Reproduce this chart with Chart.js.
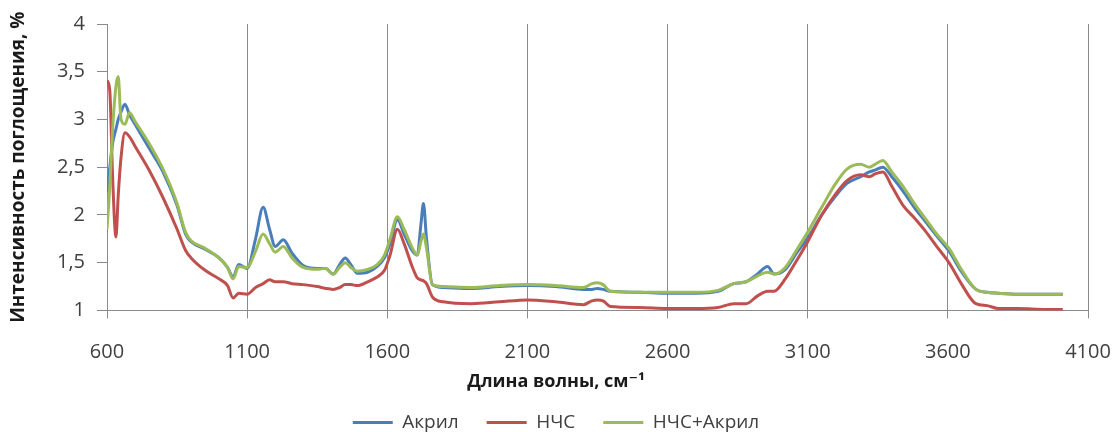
<!DOCTYPE html>
<html>
<head>
<meta charset="utf-8">
<script src="https://cdn.jsdelivr.net/npm/chart.js@4.4.1/dist/chart.umd.min.js"></script>
<style>
  html, body { margin: 0; padding: 0; background: #ffffff; overflow: hidden; }
  #wrap { position: relative; width: 1117px; height: 442px; }
</style>
</head>
<body>
<div id="wrap"><canvas id="c"></canvas></div>
<script>
// Wavenumbers, cm^-1
const wavenumbers = [600, 610, 620, 632, 640, 650, 664, 680, 700, 750, 800, 850, 880, 900, 950, 1000, 1030, 1050, 1070, 1100,
  1130, 1157, 1180, 1200, 1229, 1260, 1300, 1350, 1380, 1407, 1430, 1450, 1470, 1493, 1530, 1564, 1590, 1610, 1636, 1660,
  1690, 1707, 1720, 1729, 1740, 1761, 1800, 1900, 2000, 2100, 2200, 2300, 2330, 2350, 2370, 2396, 2500, 2600, 2700, 2780,
  2836, 2880, 2920, 2957, 2980, 3020, 3060, 3100, 3150, 3200, 3240, 3289, 3320, 3340, 3368, 3400, 3440, 3480, 3520, 3560,
  3604, 3650, 3700, 3740, 3780, 3850, 3950, 4010];

const akril = [2.24, 2.5, 2.75, 2.9, 3.0, 3.08, 3.16, 3.05, 2.95, 2.7, 2.45, 2.1, 1.8, 1.72, 1.64, 1.55, 1.45, 1.35, 1.48, 1.44,
  1.75, 2.08, 1.85, 1.67, 1.74, 1.6, 1.47, 1.44, 1.44, 1.38, 1.48, 1.55, 1.48, 1.39, 1.4, 1.46, 1.55, 1.7, 1.95, 1.8,
  1.62, 1.58, 1.9, 2.12, 1.75, 1.27, 1.24, 1.23, 1.25, 1.26, 1.25, 1.22, 1.22, 1.23, 1.22, 1.2, 1.19, 1.18, 1.18, 1.2,
  1.28, 1.3, 1.38, 1.46, 1.38, 1.43, 1.6, 1.76, 2.0, 2.2, 2.33, 2.4, 2.45, 2.47, 2.5, 2.4, 2.25, 2.08, 1.93, 1.78,
  1.62, 1.4, 1.22, 1.19, 1.18, 1.17, 1.17, 1.17];

const nchs = [3.41, 3.3, 2.4, 1.77, 2.2, 2.6, 2.86, 2.82, 2.72, 2.47, 2.18, 1.85, 1.63, 1.55, 1.42, 1.33, 1.26, 1.13, 1.18, 1.17,
  1.24, 1.28, 1.32, 1.3, 1.3, 1.28, 1.27, 1.25, 1.23, 1.22, 1.24, 1.27, 1.27, 1.26, 1.3, 1.35, 1.42, 1.58, 1.85, 1.7,
  1.45, 1.34, 1.32, 1.31, 1.28, 1.14, 1.09, 1.07, 1.09, 1.11, 1.09, 1.06, 1.1, 1.11, 1.1, 1.04, 1.03, 1.02, 1.02, 1.03,
  1.07, 1.07, 1.15, 1.2, 1.2, 1.33, 1.52, 1.72, 2.0, 2.22, 2.36, 2.42, 2.4, 2.43, 2.45, 2.3, 2.1, 1.97, 1.83, 1.67,
  1.5, 1.27, 1.07, 1.05, 1.02, 1.02, 1.01, 1.01];

const nchsAkril = [1.85, 2.3, 2.9, 3.35, 3.45, 3.0, 2.95, 3.07, 2.98, 2.75, 2.48, 2.12, 1.82, 1.73, 1.65, 1.55, 1.45, 1.33, 1.46, 1.45,
  1.62, 1.8, 1.7, 1.61, 1.67, 1.55, 1.45, 1.43, 1.44, 1.38, 1.45, 1.5, 1.45, 1.41, 1.43, 1.48, 1.58, 1.75, 1.98, 1.85,
  1.65, 1.58, 1.72, 1.8, 1.65, 1.27, 1.25, 1.24, 1.26, 1.27, 1.26, 1.24, 1.28, 1.29, 1.27, 1.2, 1.19, 1.19, 1.19, 1.21,
  1.28, 1.3, 1.36, 1.4, 1.38, 1.45, 1.63, 1.82, 2.08, 2.33, 2.48, 2.53, 2.5, 2.53, 2.57, 2.45, 2.3, 2.12, 1.96, 1.8,
  1.65, 1.42, 1.22, 1.19, 1.18, 1.17, 1.17, 1.17];

const seriesNames = ['Акрил', 'НЧС', 'НЧС+Акрил'];
const xTitle = 'Длина волны, см⁻¹';
const yTitle = 'Интенсивность поглощения, %';

const FONT = "'Open Sans', 'DejaVu Sans', sans-serif";
const AXIS = '#8a8a8a';

function pts(values) { return wavenumbers.map((w, i) => ({ x: w, y: values[i] })); }

const mk = (label, values, color, order) => ({
  label, data: pts(values), borderColor: color, backgroundColor: color,
  borderWidth: 3, pointRadius: 0, cubicInterpolationMode: 'monotone', order
});

new Chart(document.getElementById('c'), {
  type: 'line',
  data: {
    datasets: [
      mk(seriesNames[0], akril, '#4a7ebb', 2),
      mk(seriesNames[1], nchs, '#c0504d', 1),
      mk(seriesNames[2], nchsAkril, '#9bbb59', 0)
    ]
  },
  options: {
    responsive: true,
    maintainAspectRatio: false,
    animation: false,
    layout: { padding: { top: 21, right: 5, left: 0, bottom: 0 } },
    plugins: {
      tooltip: { enabled: false },
      title: {
        display: true, position: 'bottom', weight: 500, text: xTitle, color: '#1a1a1a',
        font: { family: FONT, size: 18, weight: 'bold' }, padding: { top: 2, bottom: -8 }
      },
      legend: {
        position: 'bottom',
        labels: {
          usePointStyle: true, pointStyle: 'line', pointStyleWidth: 40,
          padding: 28, color: '#404040',
          font: { family: FONT, size: 19 },
          sort: (a, b) => a.datasetIndex - b.datasetIndex
        }
      }
    },
    scales: {
      x: {
        type: 'linear', min: 600, max: 4100,
        afterFit: (s) => { s.height = 59; s.paddingRight = 29; s.paddingLeft = 0; },
        ticks: { stepSize: 500, color: '#404040', padding: 22, maxRotation: 0, font: { family: FONT, size: 20 },
          callback: (v) => String(v) },
        grid: { color: AXIS, lineWidth: 1, tickLength: 8, drawOnChartArea: true },
        border: { color: AXIS }
      },
      y: {
        min: 1, max: 4,
        afterFit: (s) => { s.width = 107; },
        ticks: { stepSize: 0.5, color: '#404040', padding: 12, font: { family: FONT, size: 20 },
          callback: (v) => String(v).replace('.', ',') },
        grid: { color: AXIS, drawOnChartArea: false, tickLength: 10 },
        border: { color: AXIS },
        title: { display: true, text: yTitle, color: '#1a1a1a', font: { family: FONT, size: 19, weight: 'bold' }, padding: { top: 7, bottom: 0 } }
      }
    }
  }
});
</script>
</body>
</html>
